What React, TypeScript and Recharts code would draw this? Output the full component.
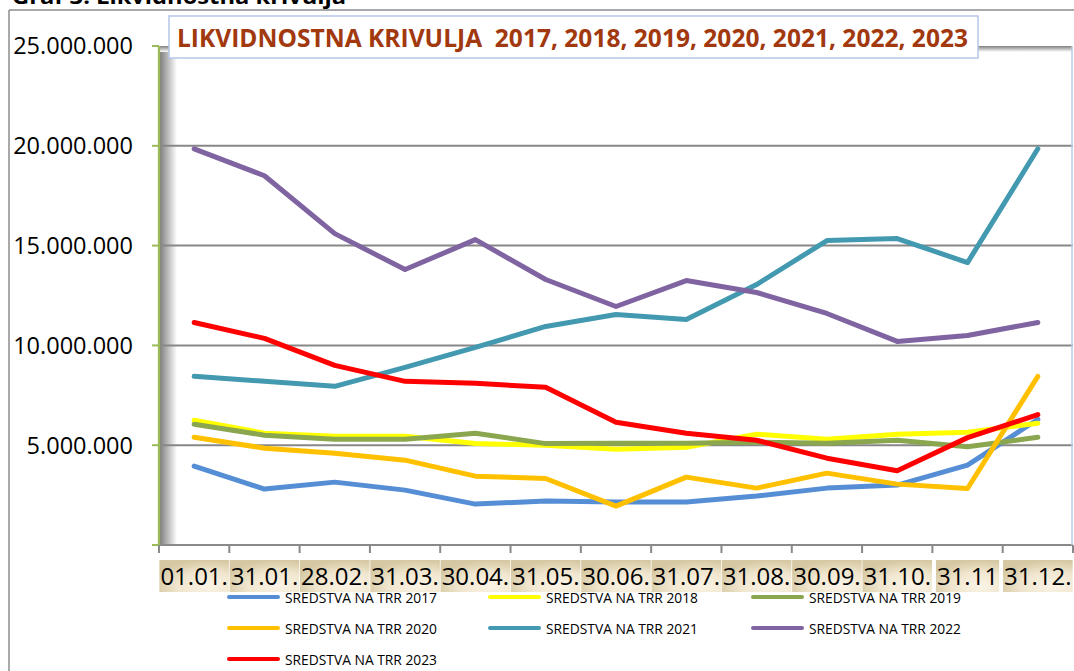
import { LineChart, Line, XAxis, YAxis, ReferenceLine } from "recharts";

// ─── Data ────────────────────────────────────────────────────────────────────

const DATES = ["01.01.", "31.01.", "28.02.", "31.03.", "30.04.", "31.05.", "30.06.", "31.07.", "31.08.", "30.09.", "31.10.", "31.11", "31.12."];

const TRR_2017 = [3950000, 2800000, 3150000, 2750000, 2050000, 2200000, 2150000, 2150000, 2450000, 2850000, 3000000, 4000000, 6300000];
const TRR_2018 = [6250000, 5600000, 5450000, 5450000, 5080000, 5000000, 4800000, 4900000, 5550000, 5300000, 5550000, 5650000, 6100000];
const TRR_2019 = [6050000, 5500000, 5300000, 5300000, 5600000, 5080000, 5100000, 5100000, 5150000, 5100000, 5250000, 4920000, 5400000];
const TRR_2020 = [5400000, 4850000, 4600000, 4250000, 3450000, 3330000, 1950000, 3400000, 2850000, 3600000, 3050000, 2830000, 8450000];
const TRR_2021 = [8450000, 8200000, 7950000, 8900000, 9900000, 10950000, 11550000, 11300000, 13050000, 15250000, 15350000, 14150000, 19850000];
const TRR_2022 = [19850000, 18500000, 15600000, 13800000, 15300000, 13300000, 11950000, 13250000, 12650000, 11600000, 10200000, 10500000, 11150000];
const TRR_2023 = [11150000, 10350000, 9000000, 8200000, 8100000, 7900000, 6150000, 5600000, 5250000, 4350000, 3720000, 5380000, 6530000];

const Y_TICKS = [0, 5000000, 10000000, 15000000, 20000000, 25000000];
const GRID_VALUES = [5000000, 10000000, 15000000, 20000000];

const SERIES = [
  { key: "s2017", name: "SREDSTVA NA TRR 2017", color: "#558ED5", values: TRR_2017 },
  { key: "s2018", name: "SREDSTVA NA TRR 2018", color: "#FFFF00", values: TRR_2018 },
  { key: "s2019", name: "SREDSTVA NA TRR 2019", color: "#8AA64E", values: TRR_2019 },
  { key: "s2020", name: "SREDSTVA NA TRR 2020", color: "#FFC000", values: TRR_2020 },
  { key: "s2021", name: "SREDSTVA NA TRR 2021", color: "#4299B0", values: TRR_2021 },
  { key: "s2022", name: "SREDSTVA NA TRR 2022", color: "#8064A2", values: TRR_2022 },
  { key: "s2023", name: "SREDSTVA NA TRR 2023", color: "#FF0000", values: TRR_2023 },
];

const data = DATES.map((date, i) => {
  const row: Record<string, string | number> = { date };
  SERIES.forEach((s) => (row[s.key] = s.values[i]));
  return row;
});

// ─── Layout ──────────────────────────────────────────────────────────────────

const W = 1074;
const H = 671;
const PLOT_L = 159;
const PLOT_R = 1073;
const PLOT_T = 46;
const PLOT_B = 545;
const BAND = (PLOT_R - PLOT_L) / DATES.length;
const FONT = "'Open Sans', sans-serif";

const fmt = (v: number) => (v === 0 ? "" : v.toLocaleString("de-DE"));

function DateTick({ x, y, payload, index }: any) {
  const label = String(payload.value);
  const digits = label.replace(/\./g, "").length;
  const dots = label.length - digits;
  const w = digits * 13.7 + dots * 6.4 + 2;
  const half = BAND / 2;
  return (
    <g>
      <line x1={x - half} x2={x - half} y1={y} y2={y + 8} stroke="#898989" strokeWidth={2} />
      {index === DATES.length - 1 && (
        <line x1={x + half} x2={x + half} y1={y} y2={y + 8} stroke="#898989" strokeWidth={2} />
      )}
      <rect x={x - w / 2} y={y + 15} width={w} height={32} fill="url(#tickBg)" />
      <text x={x} y={y + 40} textAnchor="middle" fontSize={24} fontFamily={FONT} fill="#000">
        {label}
      </text>
    </g>
  );
}

// ─── Component ───────────────────────────────────────────────────────────────

export default function App() {
  return (
    <div style={{ position: "fixed", left: 0, top: 0, width: W, height: H, background: "#fff", overflow: "hidden" }}>
      {/* plot wall shadows */}
      <svg width={W} height={H} style={{ position: "absolute", left: 0, top: 0 }}>
        <defs>
          <linearGradient id="shadeL" x1="0" y1="0" x2="1" y2="0">
            <stop offset="0%" stopColor="#7f7f7f" />
            <stop offset="100%" stopColor="#ffffff" />
          </linearGradient>
          <linearGradient id="shadeT" x1="0" y1="0" x2="0" y2="1">
            <stop offset="0%" stopColor="#808080" />
            <stop offset="100%" stopColor="#ffffff" />
          </linearGradient>
        </defs>
        <rect x={PLOT_L + 1} y={PLOT_T} width={17} height={PLOT_B - PLOT_T} fill="url(#shadeL)" />
        <rect x={PLOT_L + 1} y={PLOT_T} width={PLOT_R - PLOT_L - 2} height={6} fill="url(#shadeT)" />
      </svg>

      <div style={{ position: "absolute", left: 0, top: 0 }}>
        <LineChart width={W} height={H} data={data} margin={{ top: PLOT_T, right: W - PLOT_R, bottom: 0, left: 0 }}>
          <defs>
            <radialGradient id="tickBg" cx="0.7" cy="0.8" r="0.8">
              <stop offset="0%" stopColor="#FBF4E6" />
              <stop offset="55%" stopColor="#F0E6CF" />
              <stop offset="100%" stopColor="#D6C8A2" />
            </radialGradient>
          </defs>
          {GRID_VALUES.map((v) => (
            <ReferenceLine key={v} y={v} stroke="#878787" strokeWidth={2} />
          ))}
          <XAxis
            dataKey="date"
            interval={0}
            height={H - PLOT_B}
            padding={{ left: BAND / 2, right: BAND / 2 }}
            axisLine={{ stroke: "#898989", strokeWidth: 2 }}
            tickLine={false}
            tickSize={0}
            tickMargin={0}
            tick={<DateTick />}
          />
          <YAxis
            width={PLOT_L}
            domain={[0, 25000000]}
            ticks={Y_TICKS}
            interval={0}
            tickFormatter={fmt}
            axisLine={{ stroke: "#9BBB59", strokeWidth: 2.3 }}
            tickLine={{ stroke: "#9BBB59", strokeWidth: 2 }}
            tickSize={7}
            tickMargin={19}
            tick={{ fontSize: 23.5, fill: "#000", fontFamily: FONT }}
          />
          {SERIES.map((s) => (
            <Line
              key={s.key}
              type="linear"
              dataKey={s.key}
              name={s.name}
              stroke={s.color}
              strokeWidth={5}
              strokeLinecap="round"
              strokeLinejoin="round"
              dot={false}
              activeDot={false}
              isAnimationActive={false}
            />
          ))}
        </LineChart>
      </div>

      {/* frame, title, legend */}
      <svg width={W} height={H} style={{ position: "absolute", left: 0, top: 0, pointerEvents: "none" }}>
        <text x={12} y={4} fontSize={22} fontWeight={700} fontFamily={FONT} fill="#000" textLength={334} lengthAdjust="spacingAndGlyphs">
          Graf 3. Likvidnostna krivulja
        </text>
        <line x1={9} y1={10} x2={W} y2={10} stroke="#8c8c8c" strokeWidth={1.5} />
        <line x1={9} y1={10} x2={9} y2={H} stroke="#8c8c8c" strokeWidth={1.5} />
        <line x1={1072} y1={PLOT_T} x2={1072} y2={PLOT_B} stroke="#B9CDE5" strokeWidth={1.5} />

        <rect x={169} y={16} width={809} height={42} fill="#fff" stroke="#B4C7E7" strokeWidth={1.5} />
        <text x={177} y={47} fontSize={25} fontWeight={700} fontFamily={FONT} fill="#A2380E" textLength={791} lengthAdjust="spacingAndGlyphs" xmlSpace="preserve">
          LIKVIDNOSTNA KRIVULJA  2017, 2018, 2019, 2020, 2021, 2022, 2023
        </text>

        {SERIES.map((s, i) => {
          const col = i % 3;
          const row = Math.floor(i / 3);
          const lx = [227, 488, 751][col];
          const ly = 597 + row * 31;
          return (
            <g key={s.key}>
              <line x1={lx + 2} x2={lx + 51} y1={ly} y2={ly} stroke={s.color} strokeWidth={4} strokeLinecap="round" />
              <text x={lx + 58} y={ly + 5.5} fontSize={14} fontFamily={FONT} fill="#000" textLength={152} lengthAdjust="spacingAndGlyphs">
                {s.name}
              </text>
            </g>
          );
        })}
      </svg>
    </div>
  );
}
